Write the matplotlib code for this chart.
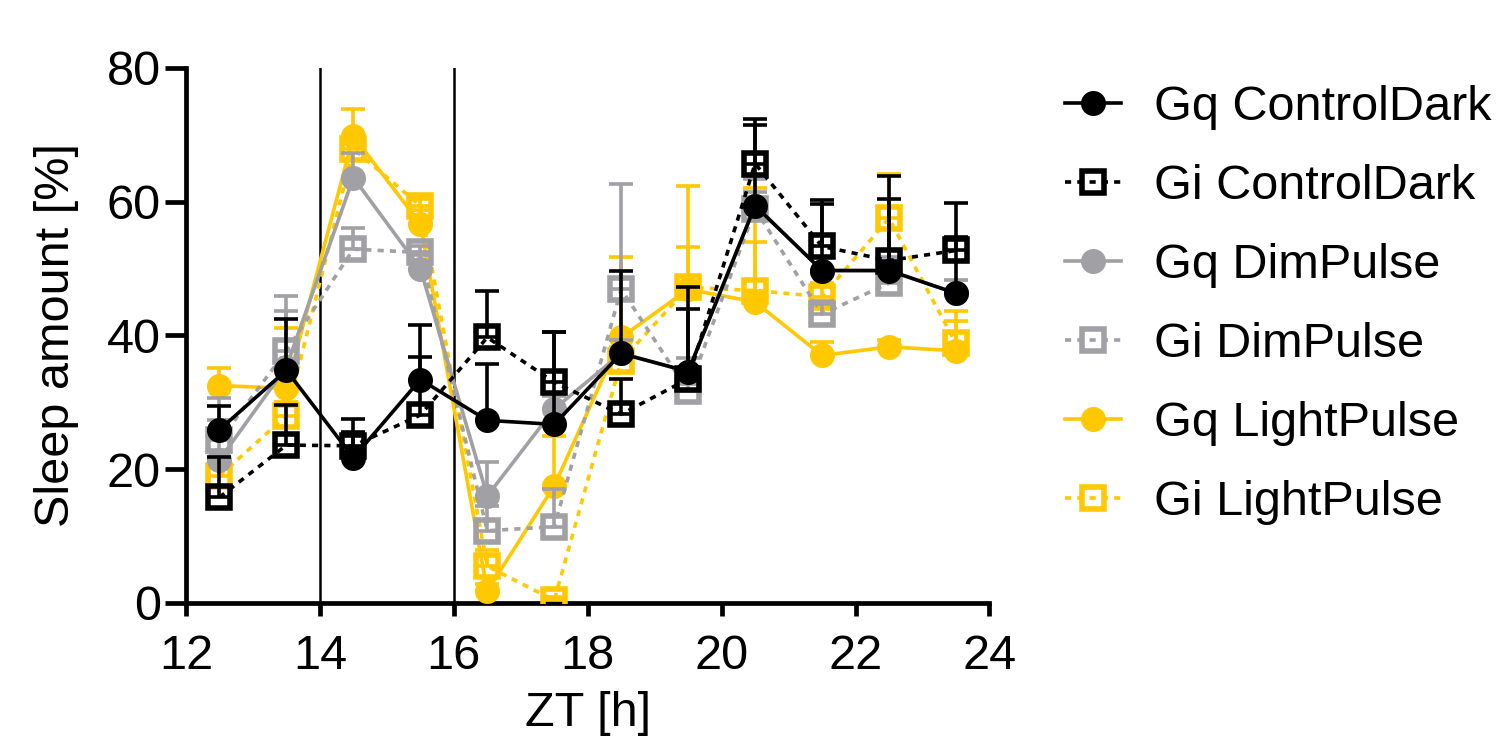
import numpy as np
import matplotlib
matplotlib.use("Agg")
import matplotlib.pyplot as plt
from matplotlib.lines import Line2D

plt.rcParams['font.family'] = ['Liberation Sans', 'DejaVu Sans']

zt = [12.5, 13.5, 14.5, 15.5, 16.5, 17.5, 18.5, 19.5, 20.5, 21.5, 22.5, 23.5]

gq_control = [25.9, 34.8, 21.7, 33.4, 27.3, 26.7, 37.3, 34.6, 59.4, 49.7, 49.7, 46.3]
gq_control_err = [3.6, 7.6, 5.8, 8.2, 8.4, 13.8, 12.3, 12.7, 12.1, 10.0, 14.2, 13.5]

gi_control = [15.8, 23.6, 23.5, 28.1, 39.7, 33.0, 28.2, 33.5, 65.7, 53.3, 51.2, 52.7]
gi_control_err = [6.0, 6.0, 2.0, 8.7, 7.0, 7.5, 5.3, 10.5, 6.6, 7.0, 9.2, 2.0]

gq_dim = [21.4, 35.3, 63.6, 50.0, 16.0, 29.0, 37.3, 34.6, 59.4, 49.7, 49.7, 46.3]
gq_dim_err = [9.3, 8.3, 3.7, 2.0, 5.0, 2.0, 2.0, 2.0, 2.0, 2.0, 2.0, 2.0]

gi_dim = [24.3, 37.7, 52.9, 52.4, 10.8, 11.4, 46.9, 31.7, 58.9, 43.2, 47.8, np.nan]
gi_dim_err = [3.0, 8.2, 3.2, 1.0, 3.7, 5.6, 15.7, 1.0, 4.5, 2.0, 2.0, 0.0]

gq_light = [32.5, 32.1, 69.8, 56.7, 1.8, 17.5, 39.7, 46.9, 45.0, 37.0, 38.3, 37.7]
gq_light_err = [2.7, 9.0, 4.0, 2.0, 1.0, 7.4, 12.0, 6.3, 8.9, 2.0, 1.0, 4.4]

gi_light = [19.0, 28.0, 67.9, 59.4, 5.5, 0.4, 36.2, 47.2, 46.7, 45.8, 57.5, 38.8]
gi_light_err = [2.0, 2.0, 1.0, 1.0, 2.4, 0.5, 2.0, 15.1, 15.3, 2.0, 6.7, 4.8]

labels = ['Gq ControlDark', 'Gi ControlDark', 'Gq DimPulse', 'Gi DimPulse',
          'Gq LightPulse', 'Gi LightPulse']

BLACK = '#000000'
GRAY = '#A0A0A5'
YELLOW = '#FFC800'

DOT = (0, (1.7, 1.7))
series = [
    (gq_control, gq_control_err, BLACK, 'o', '-'),
    (gi_control, gi_control_err, BLACK, 's', DOT),
    (gq_dim, gq_dim_err, GRAY, 'o', '-'),
    (gi_dim, gi_dim_err, GRAY, 's', DOT),
    (gq_light, gq_light_err, YELLOW, 'o', '-'),
    (gi_light, gi_light_err, YELLOW, 's', DOT),
]

FS = 35
LW = 2.6

fig = plt.figure(figsize=(15.06, 7.38), dpi=100)
ax = fig.add_axes([0.1235, 0.183, 0.5335, 0.725])

ax.axvline(14, color='black', lw=1.8, zorder=1)
ax.axvline(16, color='black', lw=1.8, zorder=1)

n = len(series)
handles = []
for i, (vals, err, col, mk, ls) in enumerate(series):
    z = 10 + (n - i) * 2
    v = np.array(vals, dtype=float)
    e = np.array(err, dtype=float)
    ax.errorbar(zt, v, yerr=[np.zeros_like(e), e], fmt='none', ecolor=col,
                elinewidth=LW, capsize=8.5, capthick=LW, zorder=z)
    if mk == 'o':
        kw = dict(marker='o', markersize=18, markerfacecolor=col,
                  markeredgecolor=col, markeredgewidth=0)
    else:
        kw = dict(marker='s', markersize=15.5, markerfacecolor='none',
                  markeredgecolor=col, markeredgewidth=4.0)
    ax.plot(zt, v, color=col, lw=LW, ls=ls, zorder=z + 1, **kw)
    handles.append(Line2D([], [], color=col, lw=LW, ls=ls, **kw))

ax.set_xlim(12, 24)
ax.set_ylim(0, 80)
ax.set_xticks([12, 14, 16, 18, 20, 22, 24])
ax.set_yticks([0, 20, 40, 60, 80])
for s in ['top', 'right']:
    ax.spines[s].set_visible(False)
for s in ['left', 'bottom']:
    ax.spines[s].set_linewidth(3.4)
ax.tick_params(axis='y', length=15, width=3.4, labelsize=FS, pad=3)
ax.tick_params(axis='x', length=9, width=3.4, labelsize=FS, pad=13)
ax.set_ylabel('Sleep amount [%]', fontsize=FS, labelpad=20)
ax.set_xlabel('ZT [h]', fontsize=FS, labelpad=9)

leg = ax.legend(handles, labels, loc='upper left', bbox_to_anchor=(1.07, 1.005),
                frameon=False, fontsize=FS, handlelength=1.15, handletextpad=0.68,
                labelspacing=0.7, borderaxespad=0)

fig.savefig('out.png', dpi=100)
